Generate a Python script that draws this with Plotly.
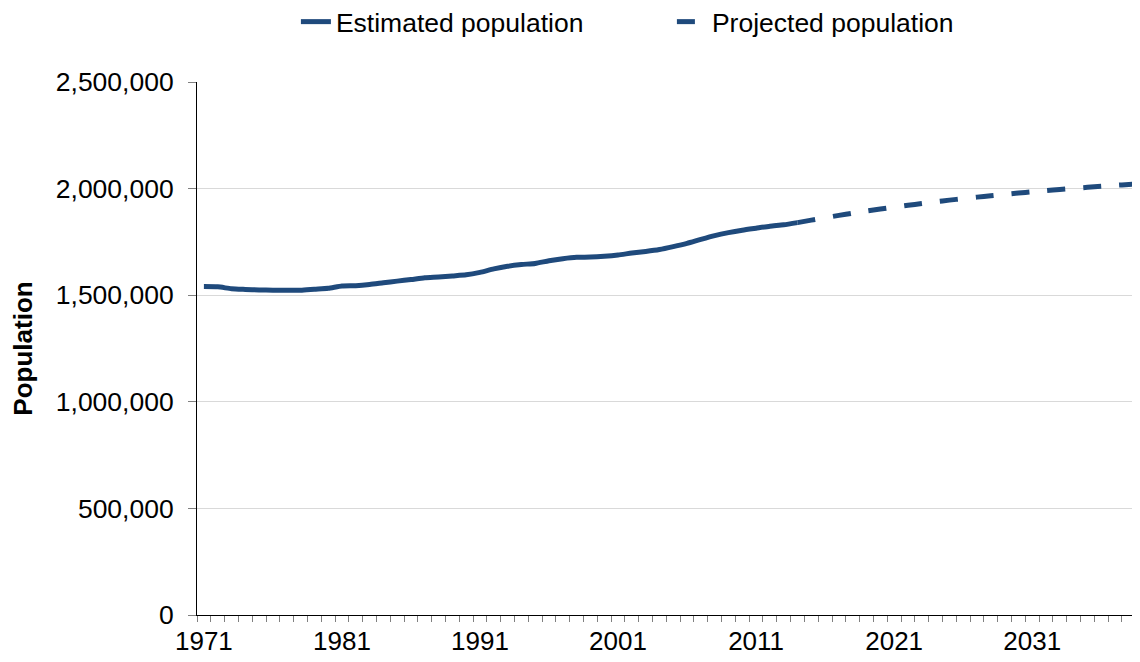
import plotly.graph_objects as go

est_years = list(range(1971, 2015))
est_pop = [1540400, 1539100, 1530500, 1527100, 1524600, 1523500, 1523200, 1523200, 1528100, 1532600,
           1543000, 1544600, 1550000, 1558100, 1566000, 1573500, 1582000, 1585400, 1590400, 1595600,
           1607300, 1623300, 1635600, 1643700, 1649100, 1661800, 1671300, 1677800, 1679000, 1682900,
           1688800, 1697500, 1704900, 1714000, 1727700, 1743100, 1761700, 1779200, 1793300, 1804800,
           1814300, 1823600, 1830300, 1840500]

proj_years = list(range(2014, 2040))
proj_pop = [1840500, 1852000, 1863500, 1874500, 1885000, 1895000, 1904000, 1913000, 1921500, 1930000,
            1938500, 1946000, 1953000, 1960000, 1966500, 1973000, 1979000, 1985000, 1990500, 1996000,
            2001000, 2006000, 2010500, 2015000, 2019500, 2024000]

label_years = [1971, 1981, 1991, 2001, 2011, 2021, 2031]
y_ticks = [0, 500000, 1000000, 1500000, 2000000, 2500000]

color = "#1f4a7c"
font_family = "Liberation Sans, Arial, sans-serif"

fig = go.Figure()
fig.add_trace(go.Scatter(x=est_years, y=est_pop, mode="lines", name="Estimated population",
                         line=dict(color=color, width=5, shape="spline", smoothing=0.6)))
fig.add_trace(go.Scatter(x=proj_years, y=proj_pop, mode="lines", name="Projected population",
                         line=dict(color=color, width=5, dash="18px,18px", shape="spline", smoothing=0.6)))

fig.update_layout(
    width=1140, height=662,
    margin=dict(l=189, r=0, t=73.5, b=54.5),
    paper_bgcolor="white", plot_bgcolor="white",
    font=dict(family=font_family, size=26, color="black"),
    showlegend=True,
    legend=dict(orientation="h", x=0.104, xanchor="left", xref="paper",
                y=0.979, yanchor="middle", yref="container",
                entrywidth=331, entrywidthmode="pixels",
                font=dict(size=26.5), bgcolor="rgba(0,0,0,0)"),
    xaxis=dict(type="linear", range=[1970.5, 2039.39], tickmode="array", tickvals=label_years,
               ticktext=[str(y) for y in label_years], ticks="", showgrid=False, zeroline=False,
               showline=True, linecolor="black", linewidth=1, ticklabelstandoff=3,
               minor=dict(ticks="outside", tick0=1970.5, dtick=1, ticklen=6, tickcolor="#808080",
                          tickwidth=1, showgrid=False),
               tickfont=dict(size=26)),
    yaxis=dict(range=[0, 2500000], tickmode="array", tickvals=y_ticks, tickformat=",d",
               ticks="outside", ticklen=8, tickcolor="#808080", showline=True, linecolor="black",
               linewidth=1, showgrid=True, gridcolor="#d9d9d9", gridwidth=1, zeroline=False,
               ticklabelstandoff=9,
               title=dict(text="<b>Population</b>", font=dict(size=26), standoff=18),
               tickfont=dict(size=26.5)),
)

fig.write_html("out.html")
